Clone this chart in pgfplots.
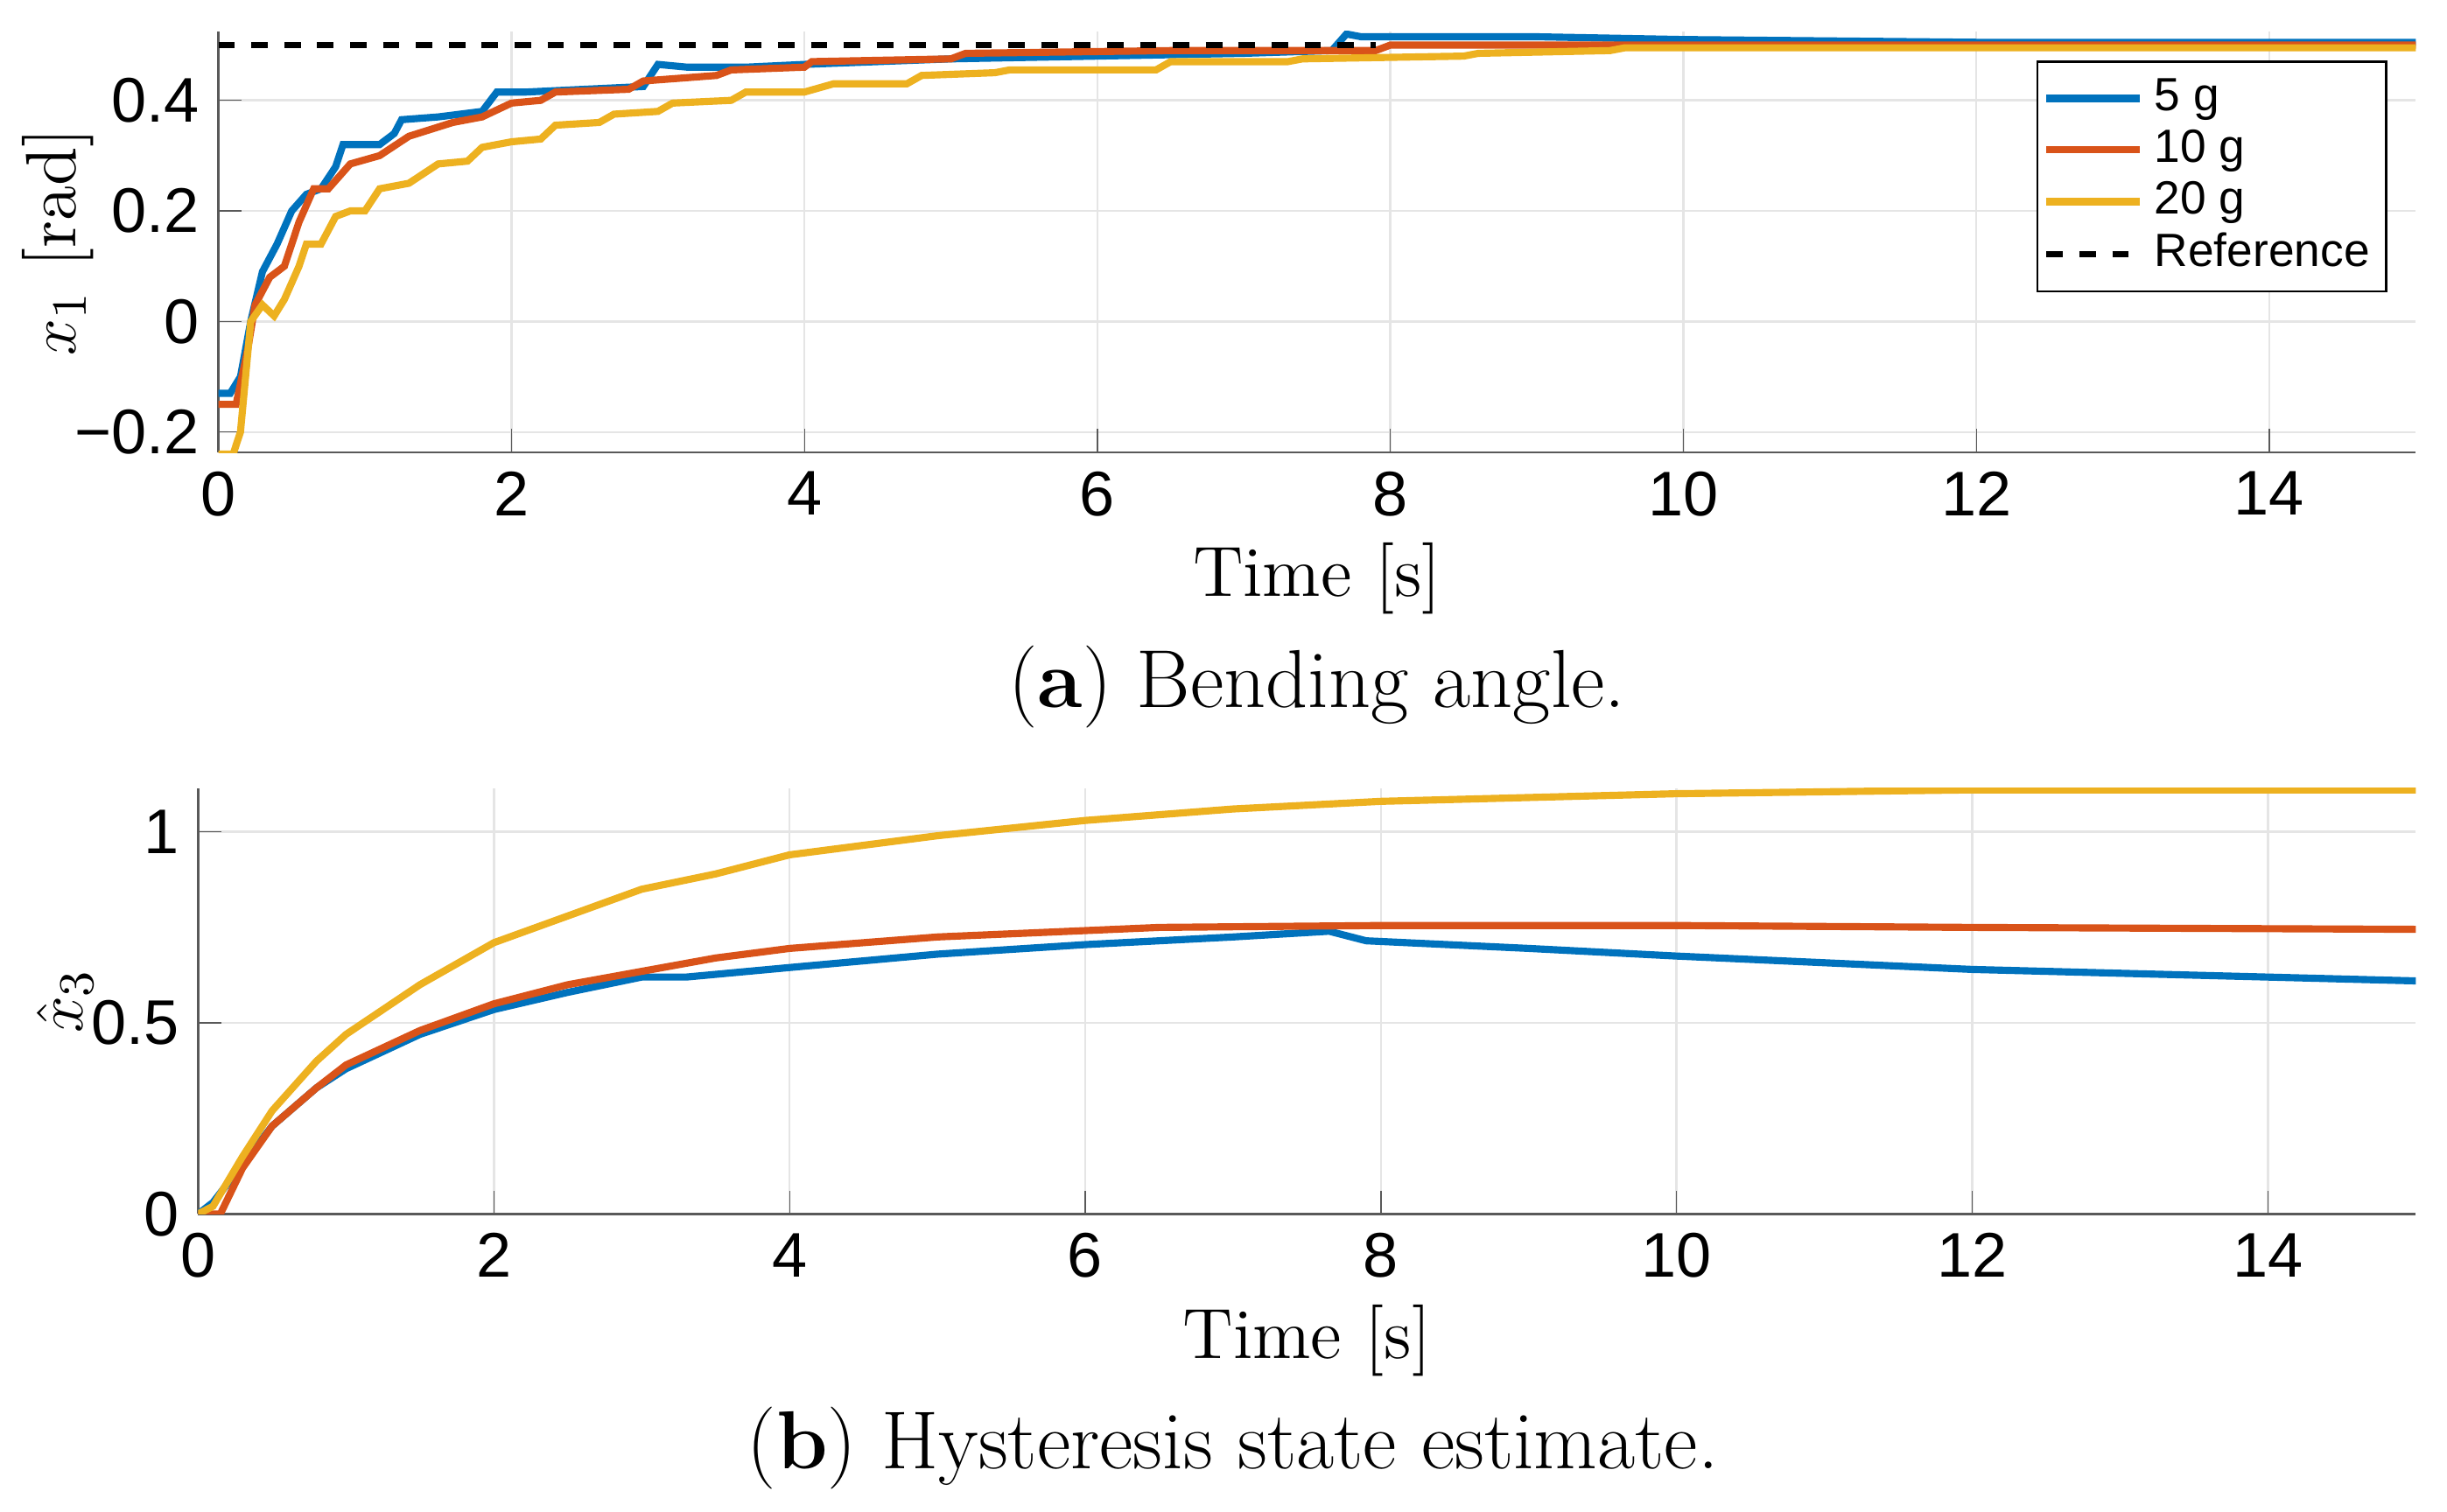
\documentclass[border=0pt]{standalone}
\usepackage{fontspec}
\usepackage{pgfplots}
\pgfplotsset{compat=1.18}
\newfontfamily\arial{Liberation Sans}
\definecolor{mb}{RGB}{0,114,189}
\definecolor{mr}{RGB}{217,83,25}
\definecolor{my}{RGB}{237,177,32}
\pgfplotsset{
  mystyle/.style={scale only axis, axis lines=left, axis line style={-, gray!70!black},
    xmin=0, xmax=15, grid=major, grid style={gray!20},
    tick style={gray!70!black}, tick align=inside,
    xtick={0,2,...,14},
    /pgf/number format/assume math mode=true,
    tick label style={font=\arial\fontsize{11.5}{13}\selectfont},
    label style={font=\fontsize{13}{15}\selectfont},
    xlabel={Time [s]},
    every axis plot/.append style={line width=1.3pt}}
}
\begin{document}
\begin{tikzpicture}
\path[use as bounding box] (0,0) rectangle (15.68,-9.69);
\begin{axis}[mystyle, at={(1.40cm,-2.90cm)}, anchor=south west, width=14.08cm, height=2.70cm,
  ymin=-0.237, ymax=0.525, ytick={-0.2,0,0.2,0.4},
  yticklabels={{\arial −0.2},0,0.2,0.4},
  ylabel={$x_1$ [rad]}, xlabel style={yshift=2pt},
  ylabel style={at={(axis description cs:-0.073,0.5)}, anchor=center, rotate=0},
  legend style={at={(0.987,0.93)}, anchor=north east, font=\arial\fontsize{8.5}{10}\selectfont, draw=black, row sep=-2pt, inner sep=1pt},
  legend cell align=left]
\addplot[mb] coordinates {(0,-0.13)(0.08,-0.13)(0.15,-0.1)(0.22,0)(0.3,0.09)(0.4,0.14)(0.5,0.2)(0.6,0.23)(0.7,0.24)(0.8,0.28)(0.85,0.32)(1.1,0.32)(1.2,0.34)(1.25,0.365)(1.5,0.37)(1.8,0.38)(1.9,0.415)(2.1,0.415)(2.5,0.42)(2.9,0.425)(3.0,0.465)(3.2,0.46)(3.6,0.46)(4,0.465)(5,0.475)(6,0.48)(7,0.485)(7.6,0.49)(7.7,0.52)(7.8,0.515)(9,0.515)(10,0.51)(12,0.505)(15,0.505)};
\addlegendentry{5 g}
\addplot[mr] coordinates {(0,-0.15)(0.12,-0.15)(0.2,-0.05)(0.25,0.03)(0.35,0.08)(0.45,0.1)(0.55,0.18)(0.65,0.24)(0.75,0.24)(0.9,0.285)(1.1,0.3)(1.3,0.335)(1.6,0.36)(1.8,0.37)(2,0.395)(2.2,0.4)(2.3,0.415)(2.8,0.42)(2.9,0.435)(3.4,0.445)(3.5,0.455)(4,0.46)(4.05,0.47)(5,0.475)(5.1,0.485)(6.5,0.49)(7.9,0.49)(8,0.5)(15,0.5)};
\addlegendentry{10 g}
\addplot[my] coordinates {(0,-0.24)(0.1,-0.24)(0.15,-0.2)(0.22,0)(0.3,0.03)(0.38,0.01)(0.45,0.04)(0.55,0.1)(0.6,0.14)(0.7,0.14)(0.8,0.19)(0.9,0.2)(1,0.2)(1.1,0.24)(1.3,0.25)(1.5,0.285)(1.7,0.29)(1.8,0.315)(2,0.325)(2.2,0.33)(2.3,0.355)(2.6,0.36)(2.7,0.375)(3,0.38)(3.1,0.395)(3.5,0.4)(3.6,0.415)(4,0.415)(4.2,0.43)(4.7,0.43)(4.8,0.445)(5.3,0.45)(5.4,0.455)(6.4,0.455)(6.5,0.47)(7.3,0.47)(7.4,0.475)(8.5,0.48)(8.6,0.485)(9.5,0.49)(9.6,0.495)(15,0.495)};
\addlegendentry{20 g}
\addplot[black, dashed, line width=1.1pt] coordinates {(0,0.5)(7.9,0.5)};
\addlegendentry{Reference}
\end{axis}
\node[font=\fontsize{15}{18}\selectfont] at (8.44,-4.40) {(\textbf{a}) Bending angle.};
\begin{axis}[mystyle, at={(1.27cm,-7.78cm)}, anchor=south west, width=14.21cm, height=2.73cm,
  ymin=0, ymax=1.115, ytick={0,0.5,1}, yticklabels={0,0.5,1},
  ylabel={$\hat{x}_3$}, xlabel style={yshift=2pt},
  ylabel style={at={(axis description cs:-0.06,0.5)}, anchor=center}]
\addplot[mb] coordinates {(0,0)(0.1,0.03)(0.3,0.13)(0.5,0.23)(0.8,0.33)(1,0.38)(1.5,0.47)(2,0.535)(2.5,0.58)(3,0.62)(3.3,0.62)(4,0.645)(5,0.68)(6,0.705)(7,0.725)(7.65,0.74)(7.9,0.715)(9,0.695)(10,0.675)(12,0.64)(14,0.62)(15,0.61)};
\addplot[mr] coordinates {(0,0)(0.15,0)(0.3,0.12)(0.5,0.23)(0.8,0.33)(1,0.39)(1.5,0.48)(2,0.55)(2.5,0.6)(3,0.635)(3.5,0.67)(4,0.695)(5,0.725)(6.5,0.75)(8,0.755)(10,0.755)(12,0.75)(15,0.745)};
\addplot[my] coordinates {(0,0)(0.1,0.02)(0.3,0.15)(0.5,0.27)(0.8,0.4)(1,0.47)(1.5,0.6)(2,0.71)(2.5,0.78)(3,0.85)(3.5,0.89)(4,0.94)(5,0.99)(6,1.03)(7,1.06)(8,1.08)(9,1.09)(10,1.1)(11,1.105)(12,1.11)(15,1.11)};
\end{axis}
\node[font=\fontsize{15}{18}\selectfont] at (7.9,-9.28) {(\textbf{b}) Hysteresis state estimate.};
\end{tikzpicture}
\end{document}
